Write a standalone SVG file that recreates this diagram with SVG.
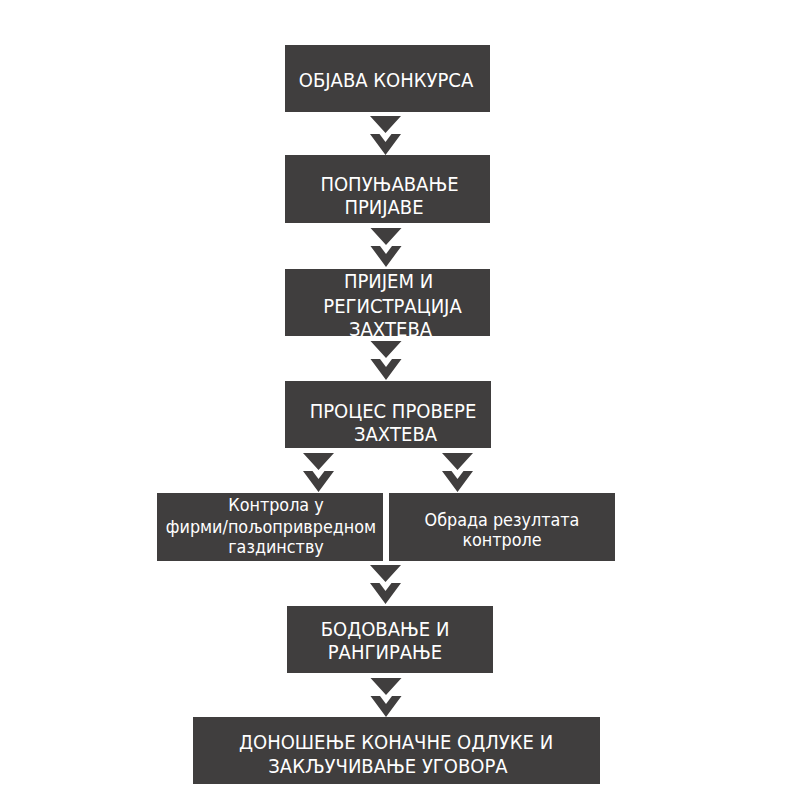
<svg xmlns="http://www.w3.org/2000/svg" xmlns:xlink="http://www.w3.org/1999/xlink" width="800" height="800" viewBox="0 0 800 800">
<style>
.box{fill:#403e3e}
.t{fill:#ffffff;font-family:"DejaVu Sans Condensed","DejaVu Sans",sans-serif;font-stretch:semi-condensed;font-size:20px;text-anchor:middle}
.s{font-size:17.8px}
.arr{fill:#403e3e}
</style>
<defs>
<path id="chev" d="M-15.5,0 H15.5 L0,17 Z M-15.5,18 H-6 L0,26 L6,18 H15.5 L0,39 Z"/>
</defs>
<rect width="800" height="800" fill="#ffffff"/>
<g id="connectors" class="arr">
<use xlink:href="#chev" href="#chev" x="385.5" y="116"/>
<use xlink:href="#chev" href="#chev" x="386" y="228"/>
<use xlink:href="#chev" href="#chev" x="386" y="341"/>
<use xlink:href="#chev" href="#chev" x="318.5" y="453"/>
<use xlink:href="#chev" href="#chev" x="457.5" y="453"/>
<use xlink:href="#chev" href="#chev" x="385.5" y="565"/>
<use xlink:href="#chev" href="#chev" x="386" y="678"/>
</g>
<g id="n1"><rect class="box" x="285" y="45" width="205" height="67"/>
<text class="t" x="386" y="87">ОБЈАВА КОНКУРСА</text></g>
<g id="n2"><rect class="box" x="285" y="155" width="205" height="68"/>
<text class="t" x="389.5" y="191">ПОПУЊАВАЊЕ</text>
<text class="t" x="384" y="214">ПРИЈАВЕ</text></g>
<g id="n3"><rect class="box" x="285" y="269" width="205" height="67"/>
<text class="t" x="388.5" y="288">ПРИЈЕМ И</text>
<text class="t" x="392.5" y="313">РЕГИСТРАЦИЈА</text>
<text class="t" x="390.5" y="336">ЗАХТЕВА</text></g>
<g id="n4"><rect class="box" x="285" y="381" width="206" height="67"/>
<text class="t" x="393" y="418">ПРОЦЕС ПРОВЕРЕ</text>
<text class="t" x="395.5" y="441">ЗАХТЕВА</text></g>
<g id="n5a"><rect class="box" x="157" y="493" width="226" height="68"/>
<text class="t s" x="276" y="511">Контрола у</text>
<text class="t s" x="271" y="532.5">фирми/пољопривредном</text>
<text class="t s" x="276" y="553">газдинству</text></g>
<g id="n5b"><rect class="box" x="389" y="493" width="226" height="68"/>
<text class="t s" x="502" y="526">Обрада резултата</text>
<text class="t s" x="502" y="546">контроле</text></g>
<g id="n6"><rect class="box" x="287" y="606" width="206" height="67"/>
<text class="t" x="385" y="636">БОДОВАЊЕ И</text>
<text class="t" x="385" y="659">РАНГИРАЊЕ</text></g>
<g id="n7"><rect class="box" x="193" y="717" width="407" height="67"/>
<text class="t" x="396" y="749">ДОНОШЕЊЕ КОНАЧНЕ ОДЛУКЕ И</text>
<text class="t" x="388" y="773">ЗАКЉУЧИВАЊЕ УГОВОРА</text></g>
</svg>
